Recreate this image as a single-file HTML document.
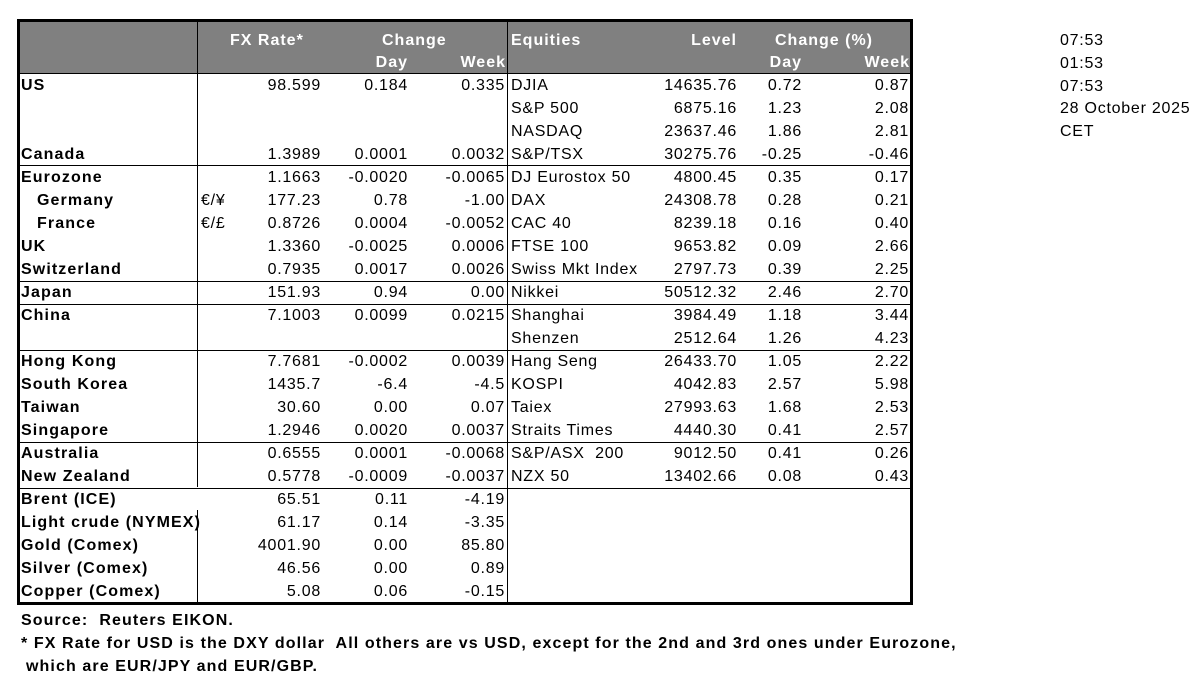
<!DOCTYPE html>
<html><head><meta charset="utf-8"><style>
*{margin:0;padding:0;box-sizing:border-box}
body{width:1201px;height:683px;background:#fff;position:relative;font-family:"Liberation Sans",Arial,sans-serif;font-size:16px;color:#000;overflow:hidden;letter-spacing:0.75px}
.box{position:absolute;left:17px;top:19px;width:896px;height:586px;border:3px solid #000}
.hdr{position:absolute;left:20px;top:22px;width:890px;height:51px;background:#808080}
.v{position:absolute;width:1px;background:#000}
.h{position:absolute;left:20px;width:890px;height:1px;background:#000}
.r{position:absolute;left:0;width:1201px;height:23px;line-height:24px}
.r span{position:absolute;top:0;white-space:pre}
.l{left:21px;font-weight:bold;letter-spacing:1.1px}
.i{left:37px;font-weight:bold;letter-spacing:1.1px}
.c{left:201px}
.fx{right:880px}.d{right:793px}.w{right:696px}
.eq{left:511px}.lv{right:464px}.ed{right:399px}.ew{right:292px}
.hw{color:#fff;font-weight:bold;position:absolute;line-height:20px;letter-spacing:1px;white-space:pre}
.t{position:absolute;left:1060px;line-height:23px}
.f{position:absolute;font-weight:bold;line-height:22px;letter-spacing:1.1px;white-space:pre}
</style></head><body>
<div class="hdr"></div>
<div class="box"></div>
<div class="v" style="left:197px;top:22px;height:465px"></div>
<div class="v" style="left:197px;top:510px;height:93px"></div>
<div class="v" style="left:507px;top:22px;height:581px"></div>
<div class="h" style="top:73px"></div>
<div class="h" style="top:165px"></div>
<div class="h" style="top:281px"></div>
<div class="h" style="top:304px"></div>
<div class="h" style="top:350px"></div>
<div class="h" style="top:442px"></div>
<div class="h" style="top:488px"></div>

<div class="hw" style="left:230px;top:31px">FX Rate*</div>
<div class="hw" style="left:382px;top:31px">Change</div>
<div class="hw" style="right:793px;top:53px">Day</div>
<div class="hw" style="right:695px;top:53px">Week</div>
<div class="hw" style="left:511px;top:31px">Equities</div>
<div class="hw" style="right:464px;top:31px">Level</div>
<div class="hw" style="left:775px;top:31px">Change (%)</div>
<div class="hw" style="right:399px;top:53px">Day</div>
<div class="hw" style="right:291px;top:53px">Week</div>

<div class="r" style="top:74px"><span class="l">US</span><span class="fx">98.599</span><span class="d">0.184</span><span class="w">0.335</span><span class="eq">DJIA</span><span class="lv">14635.76</span><span class="ed">0.72</span><span class="ew">0.87</span></div>
<div class="r" style="top:97px"><span class="eq">S&amp;P 500</span><span class="lv">6875.16</span><span class="ed">1.23</span><span class="ew">2.08</span></div>
<div class="r" style="top:120px"><span class="eq">NASDAQ</span><span class="lv">23637.46</span><span class="ed">1.86</span><span class="ew">2.81</span></div>
<div class="r" style="top:143px"><span class="l">Canada</span><span class="fx">1.3989</span><span class="d">0.0001</span><span class="w">0.0032</span><span class="eq">S&amp;P/TSX</span><span class="lv">30275.76</span><span class="ed">-0.25</span><span class="ew">-0.46</span></div>
<div class="r" style="top:166px"><span class="l">Eurozone</span><span class="fx">1.1663</span><span class="d">-0.0020</span><span class="w">-0.0065</span><span class="eq">DJ Eurostox 50</span><span class="lv">4800.45</span><span class="ed">0.35</span><span class="ew">0.17</span></div>
<div class="r" style="top:189px"><span class="i">Germany</span><span class="c">€/¥</span><span class="fx">177.23</span><span class="d">0.78</span><span class="w">-1.00</span><span class="eq">DAX</span><span class="lv">24308.78</span><span class="ed">0.28</span><span class="ew">0.21</span></div>
<div class="r" style="top:212px"><span class="i">France</span><span class="c">€/£</span><span class="fx">0.8726</span><span class="d">0.0004</span><span class="w">-0.0052</span><span class="eq">CAC 40</span><span class="lv">8239.18</span><span class="ed">0.16</span><span class="ew">0.40</span></div>
<div class="r" style="top:235px"><span class="l">UK</span><span class="fx">1.3360</span><span class="d">-0.0025</span><span class="w">0.0006</span><span class="eq">FTSE 100</span><span class="lv">9653.82</span><span class="ed">0.09</span><span class="ew">2.66</span></div>
<div class="r" style="top:258px"><span class="l">Switzerland</span><span class="fx">0.7935</span><span class="d">0.0017</span><span class="w">0.0026</span><span class="eq">Swiss Mkt Index</span><span class="lv">2797.73</span><span class="ed">0.39</span><span class="ew">2.25</span></div>
<div class="r" style="top:281px"><span class="l">Japan</span><span class="fx">151.93</span><span class="d">0.94</span><span class="w">0.00</span><span class="eq">Nikkei</span><span class="lv">50512.32</span><span class="ed">2.46</span><span class="ew">2.70</span></div>
<div class="r" style="top:304px"><span class="l">China</span><span class="fx">7.1003</span><span class="d">0.0099</span><span class="w">0.0215</span><span class="eq">Shanghai</span><span class="lv">3984.49</span><span class="ed">1.18</span><span class="ew">3.44</span></div>
<div class="r" style="top:327px"><span class="eq">Shenzen</span><span class="lv">2512.64</span><span class="ed">1.26</span><span class="ew">4.23</span></div>
<div class="r" style="top:350px"><span class="l">Hong Kong</span><span class="fx">7.7681</span><span class="d">-0.0002</span><span class="w">0.0039</span><span class="eq">Hang Seng</span><span class="lv">26433.70</span><span class="ed">1.05</span><span class="ew">2.22</span></div>
<div class="r" style="top:373px"><span class="l">South Korea</span><span class="fx">1435.7</span><span class="d">-6.4</span><span class="w">-4.5</span><span class="eq">KOSPI</span><span class="lv">4042.83</span><span class="ed">2.57</span><span class="ew">5.98</span></div>
<div class="r" style="top:396px"><span class="l">Taiwan</span><span class="fx">30.60</span><span class="d">0.00</span><span class="w">0.07</span><span class="eq">Taiex</span><span class="lv">27993.63</span><span class="ed">1.68</span><span class="ew">2.53</span></div>
<div class="r" style="top:419px"><span class="l">Singapore</span><span class="fx">1.2946</span><span class="d">0.0020</span><span class="w">0.0037</span><span class="eq">Straits Times</span><span class="lv">4440.30</span><span class="ed">0.41</span><span class="ew">2.57</span></div>
<div class="r" style="top:442px"><span class="l">Australia</span><span class="fx">0.6555</span><span class="d">0.0001</span><span class="w">-0.0068</span><span class="eq">S&amp;P/ASX  200</span><span class="lv">9012.50</span><span class="ed">0.41</span><span class="ew">0.26</span></div>
<div class="r" style="top:465px"><span class="l">New Zealand</span><span class="fx">0.5778</span><span class="d">-0.0009</span><span class="w">-0.0037</span><span class="eq">NZX 50</span><span class="lv">13402.66</span><span class="ed">0.08</span><span class="ew">0.43</span></div>
<div class="r" style="top:488px"><span class="l">Brent (ICE)</span><span class="fx">65.51</span><span class="d">0.11</span><span class="w">-4.19</span></div>
<div class="r" style="top:511px"><span class="l">Light crude (NYMEX)</span><span class="fx">61.17</span><span class="d">0.14</span><span class="w">-3.35</span></div>
<div class="r" style="top:534px"><span class="l">Gold (Comex)</span><span class="fx">4001.90</span><span class="d">0.00</span><span class="w">85.80</span></div>
<div class="r" style="top:557px"><span class="l">Silver (Comex)</span><span class="fx">46.56</span><span class="d">0.00</span><span class="w">0.89</span></div>
<div class="r" style="top:580px"><span class="l">Copper (Comex)</span><span class="fx">5.08</span><span class="d">0.06</span><span class="w">-0.15</span></div>

<div class="t" style="top:29px">07:53</div>
<div class="t" style="top:52px">01:53</div>
<div class="t" style="top:75px">07:53</div>
<div class="t" style="top:97px">28 October 2025</div>
<div class="t" style="top:120px">CET</div>

<div class="f" style="left:21px;top:610px">Source:  Reuters EIKON.</div>
<div class="f" style="left:21px;top:633px">* FX Rate for USD is the DXY dollar  All others are vs USD, except for the 2nd and 3rd ones under Eurozone,</div>
<div class="f" style="left:26px;top:656px">which are EUR/JPY and EUR/GBP.</div>
</body></html>
